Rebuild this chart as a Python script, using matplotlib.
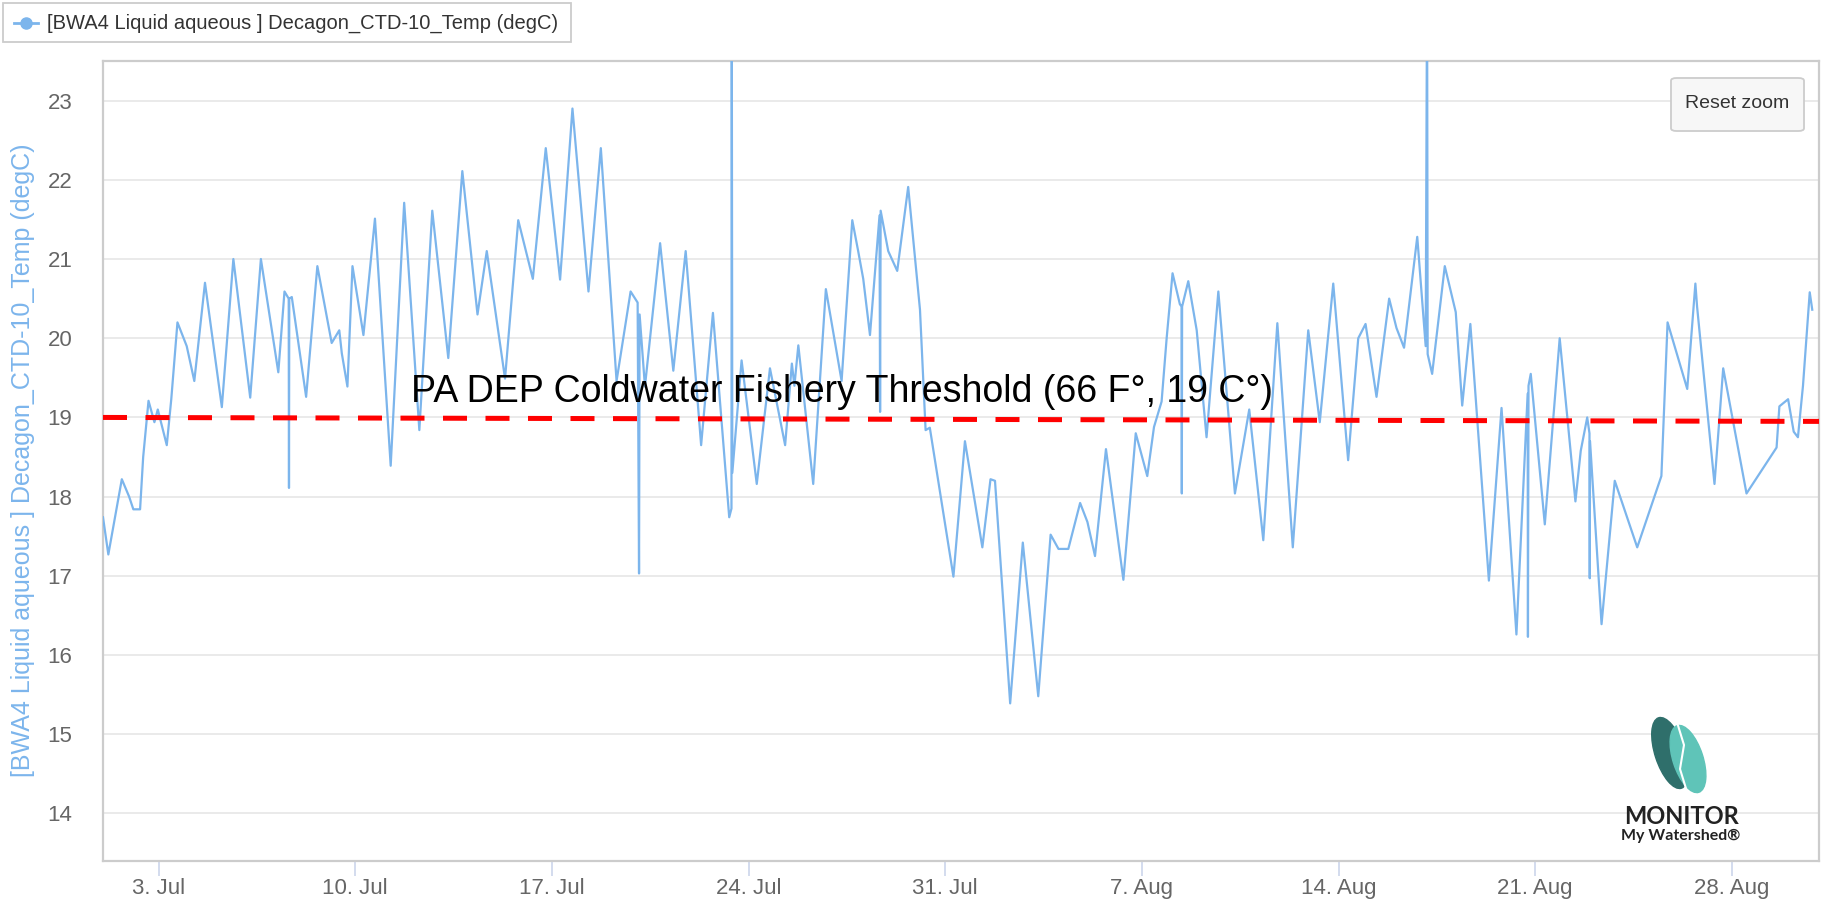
import numpy as np
import pandas as pd
import matplotlib
matplotlib.use("Agg")
import matplotlib.pyplot as plt
import matplotlib.dates as mdates
from matplotlib.patches import FancyBboxPatch, Ellipse
from matplotlib.lines import Line2D

# ---------------- data ----------------
start_date = "2017-07-01 00:00"
x_range_days = [0.02, 61.1]
y_range = [13.4, 23.5]
y_ticks = [14, 15, 16, 17, 18, 19, 20, 21, 22, 23]

day_offsets = [
    0.02, 0.21, 0.69, 0.95, 1.10, 1.34, 1.45, 1.64, 1.75, 1.85,
    1.97, 2.29, 2.45, 2.67, 3.00, 3.27, 3.65, 4.25, 4.66, 5.26,
    5.64, 6.26, 6.48, 6.63, 6.64, 6.65, 6.74, 7.25, 7.65, 8.16,
    8.43, 8.52, 8.72, 8.90, 9.29, 9.70, 10.26, 10.74, 11.28,
    11.74, 12.31, 12.81, 13.35, 13.68, 14.33, 14.80, 15.32, 15.78, 16.29,
    16.73, 17.30, 17.74, 18.30, 18.80, 19.05, 19.10, 19.12, 19.31, 19.85,
    20.32, 20.76, 21.31, 21.73,
    22.31, 22.39, 22.40, 22.42, 22.75, 23.29, 23.76, 24.30, 24.54, 24.63,
    24.77, 25.30, 25.75, 26.31, 26.69, 26.90, 27.08, 27.32, 27.66, 27.68,
    27.70, 27.97, 28.29, 28.68, 29.10, 29.30, 29.45, 30.29, 30.70, 31.32,
    31.61, 31.77, 32.31,
    32.76, 33.31, 33.75, 34.03, 34.38, 34.80, 35.06, 35.33, 35.72, 36.34,
    36.78, 37.19, 37.43, 37.70, 37.88, 38.09, 38.35, 38.41, 38.42, 38.43,
    38.65, 38.95, 39.30, 39.72, 40.31, 40.82, 41.32, 41.82, 42.37, 42.92,
    43.33, 43.81, 44.34, 44.70, 44.96, 45.35, 45.80, 46.06, 46.33, 46.80,
    47.10, 47.15, 47.17, 47.33, 47.78, 48.17, 48.40, 48.69, 49.35, 49.80,
    50.33, 50.73, 50.74, 50.76, 50.84, 51.34, 51.87, 52.43, 52.62, 52.85,
    52.93, 52.94, 52.95, 53.36, 53.83, 54.63, 55.49, 55.71, 56.41, 56.70,
    56.76, 57.38, 57.69, 58.52, 59.59, 59.69, 60.00, 60.20, 60.35, 60.53,
    60.77, 60.86,
]

temps_degC = [
    17.74, 17.27, 18.22, 18.00, 17.84, 17.84, 18.50, 19.21, 19.07, 18.94,
    19.10, 18.65, 19.23, 20.20, 19.90, 19.46, 20.70, 19.13, 21.00, 19.25,
    21.00, 19.57, 20.59, 20.50, 18.11, 20.50, 20.52, 19.26, 20.91, 19.94,
    20.10, 19.81, 19.39, 20.91, 20.04, 21.51, 18.39, 21.71, 18.84,
    21.61, 19.75, 22.11, 20.30, 21.10, 19.49, 21.49, 20.75, 22.40, 20.74,
    22.90, 20.59, 22.40, 19.46, 20.59, 20.45, 17.03, 20.30, 19.39, 21.20,
    19.59, 21.10, 18.65, 20.32,
    17.74, 17.85, 24.50, 18.30, 19.72, 18.16, 19.62, 18.65, 19.68, 19.40,
    19.91, 18.16, 20.62, 19.46, 21.49, 21.10, 20.75, 20.04, 21.55, 19.07,
    21.61, 21.10, 20.85, 21.91, 20.36, 18.84, 18.87, 16.99, 18.70, 17.36,
    18.22, 18.20, 15.39,
    17.42, 15.48, 17.52, 17.34, 17.34, 17.92, 17.68, 17.25, 18.60, 16.95,
    18.80, 18.26, 18.88, 19.20, 20.00, 20.82, 20.43, 20.40, 18.04, 20.40,
    20.72, 20.10, 18.75, 20.59, 18.04, 19.10, 17.45, 20.19, 17.36, 20.10,
    18.94, 20.69, 18.46, 20.00, 20.18, 19.26, 20.50, 20.13, 19.88, 21.28,
    19.90, 24.50, 19.80, 19.55, 20.91, 20.33, 19.15, 20.18, 16.94, 19.12,
    16.26, 19.30, 16.23, 19.40, 19.55, 17.65, 20.00, 17.94, 18.58, 19.00,
    18.80, 16.97, 18.70, 16.39, 18.20, 17.36, 18.26, 20.20, 19.36, 20.69,
    20.40, 18.16, 19.62, 18.04, 18.62, 19.14, 19.23, 18.82, 18.75, 19.40,
    20.58, 20.36,
]

threshold_ends = [19.0, 18.95]
threshold_label = "PA DEP Coldwater Fishery Threshold (66 F°, 19 C°)"
threshold_label_pos = [11.0, 19.19]   # day offset, degC
series_name = "[BWA4 Liquid aqueous ] Decagon_CTD-10_Temp (degC)"

# ---------------- figure ----------------
W, H = 1829, 900
fig = plt.figure(figsize=(W / 100, H / 100), dpi=100)
fig.patch.set_facecolor("white")
plt.rcParams["font.family"] = ["Liberation Sans", "DejaVu Sans"]

def fx(px):
    return px / W

def fy(py):
    return 1 - py / H

ax_l, ax_r, ax_t, ax_b = 103, 1819, 61, 861
ax = fig.add_axes([fx(ax_l), fy(ax_b), fx(ax_r - ax_l), (ax_b - ax_t) / H])

base = pd.Timestamp(start_date)
times = base + pd.to_timedelta(day_offsets, unit="D")
x0 = base + pd.Timedelta(days=x_range_days[0])
x1 = base + pd.Timedelta(days=x_range_days[1])

ax.plot(times, temps_degC, color="#7cb5ec", lw=1.6, solid_joinstyle="round", zorder=3)

# threshold
ax.plot([x0, x1], threshold_ends, color="#ff0000", lw=3.6,
        dashes=(4.8, 3.7), dash_capstyle="butt", zorder=4)
ax.text(base + pd.Timedelta(days=threshold_label_pos[0]), threshold_label_pos[1],
        threshold_label, fontsize=27, color="black", ha="left", va="baseline",
        family=["Liberation Sans", "DejaVu Sans"], zorder=5)

ax.set_xlim(x0, x1)
ax.set_ylim(*y_range)
ax.set_yticks(y_ticks)
ax.yaxis.grid(True, color="#e6e6e6", lw=1.2)
ax.set_axisbelow(True)

ax.xaxis.set_major_locator(mdates.WeekdayLocator(byweekday=mdates.MO))
ax.xaxis.set_major_formatter(
    matplotlib.ticker.FuncFormatter(lambda v, p: f"{mdates.num2date(v).day}. {mdates.num2date(v).strftime('%b')}"))

ax.tick_params(axis="y", length=0, pad=22, labelsize=16, labelcolor="#666666")
ax.tick_params(axis="x", length=11, width=1.2, color="#ccd6eb", pad=1.5,
               labelsize=16, labelcolor="#666666")
for s in ax.spines.values():
    s.set_color("#cccccc")
    s.set_linewidth(1.6)

# y axis title
fig.text(fx(23), fy(460), series_name, rotation=90, ha="center", va="center",
         fontsize=18, color="#7cb5ec")

# legend box
leg = FancyBboxPatch((fx(3), fy(42)), fx(568), 39 / H,
                     boxstyle="square,pad=0", transform=fig.transFigure,
                     facecolor="white", edgecolor="#cccccc", lw=1.3)
fig.patches.append(leg)
fig.add_artist(Line2D([fx(14), fx(38)], [fy(23), fy(23)], color="#7cb5ec", lw=2,
                      transform=fig.transFigure))
fig.add_artist(Line2D([fx(26)], [fy(23)], marker="o", markersize=8,
                      color="#7cb5ec", transform=fig.transFigure))
fig.text(fx(47), fy(23), series_name, ha="left", va="center", fontsize=14.5,
         color="#333333")

# reset zoom button
btn = FancyBboxPatch((fx(1671), fy(131)), fx(133), 53 / H,
                     boxstyle="round,pad=0,rounding_size=0.003",
                     transform=fig.transFigure, facecolor="#f7f7f7",
                     edgecolor="#cccccc", lw=1.3, zorder=10)
fig.patches.append(btn)
fig.text(fx(1737), fy(104), "Reset zoom", ha="center", va="center",
         fontsize=14, color="#333333", zorder=11)

# logo
lg = fig.add_axes([fx(1640), fy(805), fx(80), 90 / H])
lg.set_xlim(0, 80)
lg.set_ylim(0, 90)
lg.axis("off")
lg.add_patch(Ellipse((30, 52), 30, 74, angle=18, color="#2f6f6b"))
lg.add_patch(Ellipse((48, 46), 30, 70, angle=18, color="#5fc4b8"))
lg.plot([36, 44, 40, 48], [86, 60, 36, 10], color="white", lw=1.5)
fig.text(fx(1681), fy(817), "MONITOR", ha="center", va="center",
         fontsize=17, fontweight="bold", color="#222222",
         family=["Lato", "DejaVu Sans"])
fig.text(fx(1681), fy(836), "My Watershed®", ha="center", va="center",
         fontsize=11.5, fontweight="bold", color="#222222",
         family=["Lato", "DejaVu Sans"])

fig.savefig("out.png", dpi=100, facecolor="white")
